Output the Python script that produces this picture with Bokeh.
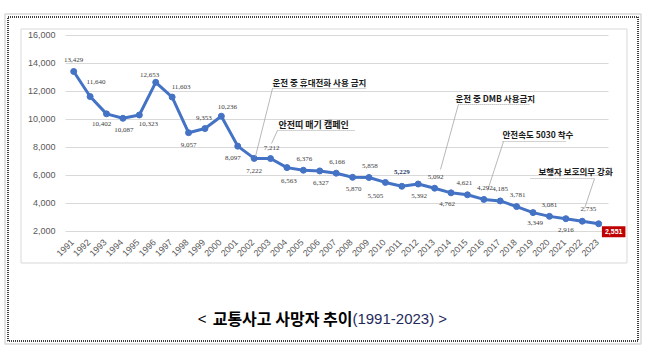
import math
from bokeh.plotting import figure
from bokeh.models import ColumnDataSource, LabelSet, Label, Range1d
from bokeh.core.properties import value
from bokeh.embed import file_html
from bokeh.resources import INLINE

# ---------------- data ----------------
years = list(range(1991, 2024))
deaths = [13429, 11640, 10402, 10087, 10323, 12653, 11603, 9057, 9353, 10236,
          8097, 7222, 7212, 6563, 6376, 6327, 6166, 5870, 5858, 5505,
          5229, 5392, 5092, 4762, 4621, 4292, 4185, 3781, 3349, 3081,
          2916, 2735, 2551]
y_ticks = [2000, 4000, 6000, 8000, 10000, 12000, 14000, 16000]
year_labels = [str(y) for y in years]
caption_open = "<"
caption_main = "교통사고 사망자 추이"
caption_years = "(1991-2023) >"
events = ["운전 중 휴대전화 사용 금지", "안전띠 매기 캠페인", "운전 중 DMB 사용금지",
          "안전속도 5030 착수", "보행자 보호의무 강화"]

# ---------------- layout / style ----------------
lab_dx = [0, 6, -5, 1, 9, -6, 9, 0, -1, 6, -5, 0, 1, 2, 1, 1, 1, 1, 1, -10,
          0, 1, 1, -4, -3, 1, 0, 1, 2, 0, 0, 6]
lab_dy = [11, 15, -10, -12, -9, 7, 10, -12, 11, 9, -12, -13, 11, -13, 11, -12,
          11, -12, 11, -14, 14, -12, 11, -11, 12, 11, 12, 12, -10, 11, -11, 12]
lab_color = ["#404040"] * 32
lab_style = ["normal"] * 32
lab_color[20] = "#1F3864"
lab_style[20] = "bold"

# callout geometry (data units): text anchor, underline, leader line
ev_x = [2003.12, 2003.48, 2014.27, 2017.14, 2019.33]
ev_y = [12643, 9643, 11536, 8929, 6286]
ev_size = ["8.5px", "9px", "8.5px", "8.5px", "8.5px"]
ul_x0 = [2003.12, 2003.42, 2014.45, 2017.14, 2018.85]
ul_x1 = [2008.84, 2008.17, 2018.84, 2021.04, 2022.75]
ul_y = [12214, 9214, 11071, 8429, 5786]
ld_x0 = [2003.12, 2003.42, 2014.45, 2017.20, 2022.75]
ld_y0 = [12214, 9214, 11071, 8429, 5786]
ld_x1 = [2002.08, 2003.06, 2013.36, 2016.23, 2022.14]
ld_y1 = [7357, 8286, 6429, 4929, 3643]

# frame boxes (data units): outer grey, dotted, inner chart area
box_l = [1986.812, 1986.995, 1987.788]
box_r = [2025.581, 2025.398, 2024.727]
box_t = [17536, 17321, 16464]
box_b = [-6036, -5821, -250]

W, H = 642, 346
p = figure(width=W, height=H, output_backend="svg", toolbar_location=None,
           x_range=Range1d(1986.538, 2025.672),
           y_range=Range1d(-6214.3, 18500),
           x_axis_type=None, y_axis_type=None,
           min_border=0, min_border_left=0, min_border_right=0,
           min_border_top=0, min_border_bottom=0)
p.outline_line_color = None
p.background_fill_color = "white"
p.border_fill_color = "white"
p.grid.visible = False

# boxes
p.quad(left=box_l[:1], right=box_r[:1], top=box_t[:1], bottom=box_b[:1],
       fill_color=None, line_color="#D9D9D9", line_width=1.5)
p.quad(left=box_l[1:2], right=box_r[1:2], top=box_t[1:2], bottom=box_b[1:2],
       fill_color=None, line_color="black", line_width=1.5, line_dash="1 1")
p.quad(left=box_l[2:], right=box_r[2:], top=box_t[2:], bottom=box_b[2:],
       fill_color=None, line_color="#D9D9D9", line_width=1)

# horizontal grid + y tick labels
gx0 = years[0] - 0.5
gx1 = years[-1] + 0.6
p.segment(x0=[gx0] * len(y_ticks), y0=y_ticks, x1=[gx1] * len(y_ticks),
          y1=y_ticks, line_color="#D9D9D9", line_width=1)
p.text(x=[years[0] - 1.11] * len(y_ticks), y=y_ticks,
       text=[f"{t:,}" for t in y_ticks], text_align="right",
       text_baseline="middle", text_font=value("Liberation Sans"),
       text_font_size="9px", text_color="#595959")

# x tick labels (rotated)
p.text(x=[y - 0.08 for y in years], y=[1340] * len(years), text=year_labels,
       angle=math.pi / 4, text_align="right", text_baseline="middle",
       text_font=value("Liberation Sans"), text_font_size="9px",
       text_color="#595959")

# series
src = ColumnDataSource(dict(year=years, deaths=deaths))
p.line("year", "deaths", source=src, line_color="#4472C4", line_width=3)
p.scatter("year", "deaths", source=src, size=6, fill_color="#4472C4",
          line_color="#4472C4")

lsrc = ColumnDataSource(dict(year=years[:-1], deaths=deaths[:-1],
                             txt=[f"{v:,}" for v in deaths[:-1]],
                             dx=lab_dx, dy=lab_dy, col=lab_color, sty=lab_style))
p.add_layout(LabelSet(x="year", y="deaths", text="txt", source=lsrc,
                      x_offset="dx", y_offset="dy", text_align="center",
                      text_baseline="middle", text_font="Liberation Sans",
                      text_font_size="7px", text_color="col",
                      text_font_style="sty"))
p.add_layout(Label(x=years[-1], y=deaths[-1], text=f"{deaths[-1]:,}",
                   x_offset=15, y_offset=-8, text_align="center",
                   text_baseline="middle", text_font="Liberation Sans",
                   text_font_size="7px", text_font_style="bold",
                   text_color="white", background_fill_color="#C00000",
                   padding=3))

# callouts
p.segment(ul_x0, ul_y, ul_x1, ul_y, line_color="#A6A6A6", line_width=1,
          line_dash="1 1")
p.segment(ld_x0, ld_y0, ld_x1, ld_y1, line_color="#A6A6A6", line_width=0.8)
for t, x, y, s in zip(events, ev_x, ev_y, ev_size):
    p.add_layout(Label(x=x, y=y, text=t, text_align="left",
                       text_baseline="middle", text_font="Noto Sans CJK KR",
                       text_font_size=s, text_font_style="bold",
                       text_color="#1a1a1a"))

# caption
cap_y = -4214
p.add_layout(Label(x=1999.10, y=cap_y, text=caption_open, text_align="right",
                   text_baseline="middle", text_font="Liberation Sans",
                   text_font_size="15px", text_color="black"))
p.add_layout(Label(x=2007.99, y=cap_y, text=caption_main, text_align="right",
                   text_baseline="middle", text_font="Noto Sans CJK KR",
                   text_font_size="16px", text_font_style="bold",
                   text_color="black"))
p.add_layout(Label(x=2007.99, y=cap_y, text=caption_years, text_align="left",
                   text_baseline="middle", text_font="Liberation Sans",
                   text_font_size="15px", text_color="#1F2A5C"))

open("out.html", "w").write(file_html(p, INLINE))
